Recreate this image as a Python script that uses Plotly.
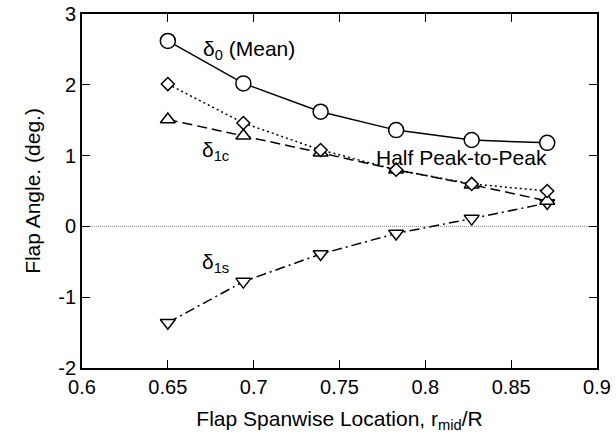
import plotly.graph_objects as go

x_loc = [0.650, 0.694, 0.739, 0.783, 0.827, 0.871]
delta0_mean = [2.62, 2.02, 1.62, 1.36, 1.22, 1.18]
half_p2p = [2.01, 1.46, 1.08, 0.80, 0.60, 0.50]
delta1c = [1.51, 1.28, 1.04, 0.80, 0.59, 0.36]
delta1s = [-1.36, -0.78, -0.39, -0.10, 0.11, 0.33]

x_ticks = [0.6, 0.65, 0.7, 0.75, 0.8, 0.85, 0.9]
x_tick_labels = ["0.6", "0.65", "0.7", "0.75", "0.8", "0.85", "0.9"]
y_ticks = [-2, -1, 0, 1, 2, 3]
y_tick_labels = ["-2", "-1", "0", "1", "2", "3"]

font = "Liberation Sans"
fig = go.Figure()

# zero reference line
fig.add_trace(go.Scatter(x=[0.6, 0.9], y=[0, 0], mode="lines",
                         line=dict(color="#888888", width=1, dash="1px,1px"),
                         showlegend=False, hoverinfo="skip"))

series = [
    (delta1s, "triangle-down", "10px,4px,2px,4px", 13),
    (delta1c, "triangle-up", "10px,5px", 13),
    (half_p2p, "diamond", "2px,3px", 10),
    (delta0_mean, "circle", "solid", 15),
]
for ys, sym, dash, size in series:
    fig.add_trace(go.Scatter(
        x=x_loc, y=ys, mode="lines",
        line=dict(color="black", width=1.5, dash=dash),
        showlegend=False))
for ys, sym, dash, size in series:
    fig.add_trace(go.Scatter(
        x=x_loc, y=ys, mode="markers",
        marker=dict(symbol=sym, size=size, color="white",
                    line=dict(color="black", width=1.5)),
        showlegend=False))

annots = [
    (0.697, 2.49, "δ<sub>0</sub> (Mean)"),
    (0.678, 1.07, "δ<sub>1c</sub>"),
    (0.821, 0.98, "Half Peak-to-Peak"),
    (0.678, -0.51, "δ<sub>1s</sub>"),
]
for ax_, ay_, t in annots:
    fig.add_annotation(x=ax_, y=ay_, text=t, showarrow=False,
                       font=dict(family=font, size=21, color="black"))

axis_common = dict(showgrid=False, zeroline=False, ticks="inside", ticklen=8,
                   tickwidth=1.2, tickcolor="black", showline=True, linecolor="black",
                   linewidth=1.8, mirror="ticks", automargin=False,
                   ticklabeloverflow="allow",
                   tickfont=dict(family=font, size=20, color="black"))
fig.update_xaxes(range=[0.6, 0.9], tickvals=x_ticks, ticktext=x_tick_labels,
                 title=dict(text="Flap Spanwise Location, r<sub>mid</sub>/R",
                            font=dict(family=font, size=21, color="black"), standoff=14),
                 **axis_common)
fig.update_yaxes(range=[-2, 3], tickvals=y_ticks, ticktext=y_tick_labels,
                 title=dict(text="Flap Angle. (deg.)",
                            font=dict(family=font, size=21, color="black"), standoff=12),
                 **axis_common)
fig.update_layout(width=616, height=439, paper_bgcolor="white", plot_bgcolor="white",
                  margin=dict(l=82, r=19, t=14, b=71), showlegend=False)
fig.write_html("out.html", config={"displayModeBar": False},
               post_script="document.body.style.margin='0';document.body.style.overflow='hidden';")
